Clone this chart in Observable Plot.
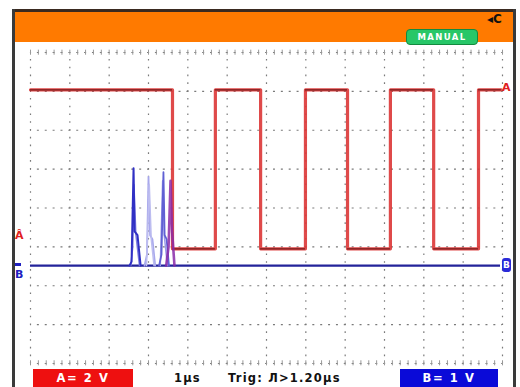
<!DOCTYPE html>
<html>
<head>
<meta charset="utf-8">
<script src="https://cdn.jsdelivr.net/npm/d3@7"></script>
<script src="https://cdn.jsdelivr.net/npm/@observablehq/plot@0.6"></script>
<style>
  html, body { margin: 0; padding: 0; background: #fff; }
  #wrap { position: relative; width: 520px; height: 387px; overflow: hidden; background: #fff; font-family: "DejaVu Sans", sans-serif; }
  #wrap svg { position: absolute; left: 0; top: 0; }
  .abs { position: absolute; }
  .lab { font-weight: bold; font-size: 11.5px; color: #111; white-space: pre; letter-spacing: 1.2px; }
  .box { color: #fff; font-weight: bold; font-size: 11.5px; text-align: center; line-height: 18px; letter-spacing: 1.6px; white-space: pre; }
</style>
</head>
<body>
<div id="wrap"></div>
<script>
// ---- data (time in µs = divisions, level in divisions) ----
const gridX = d3.range(0, 13);            // 12 horizontal divisions
const gridY = d3.range(0, 9);             // 8 vertical divisions
const subTicks = d3.range(0, 12.01, 0.2);

// Channel A (red) square wave
const redStart = 0, redEnd = 11.97;
const redHigh = 7.04, redLow = 2.95;
const redEdges = [3.61, 4.70, 5.85, 6.99, 8.06, 9.15, 10.25, 11.39];

// Channel B (blue) baseline and glitch spikes
const blueLevel = 2.52;
const blueEnd = 11.95;
const spike1T = [2.52, 2.57, 2.62, 2.645, 2.72, 2.80];
const spike1V = [2.52, 2.62, 5.02, 3.40, 3.30, 2.52];
const spike1bT = [2.55, 2.60, 2.63, 2.68, 2.77];
const spike1bV = [2.52, 3.00, 4.60, 3.30, 2.52];
const spike2T = [2.90, 2.96, 3.00, 3.04, 3.10, 3.17];
const spike2V = [2.52, 2.80, 4.80, 3.30, 3.20, 2.52];
const spike2bT = [2.95, 3.02, 3.07, 3.14];
const spike2bV = [2.52, 4.60, 3.20, 2.52];
const spike3T = [3.27, 3.33, 3.38, 3.41, 3.46, 3.52];
const spike3V = [2.52, 2.80, 4.92, 3.30, 3.20, 2.52];
const spike3bT = [3.30, 3.36, 3.40, 3.48];
const spike3bV = [2.52, 4.70, 3.30, 2.52];
const spike4T = [3.45, 3.51, 3.56, 3.60, 3.66];
const spike4V = [2.52, 3.00, 4.70, 3.40, 2.52];

// texts
const timebase = "1µs";
const trigText = "Trig: Л>1.20µs";
const chA = "A= 2 V";
const chB = "B= 1 V";
const modeText = "MANUAL";

// ---- build tables ----
const redPts = [];
let lvl = redHigh;
redPts.push({t: redStart, v: lvl});
for (const e of redEdges) {
  redPts.push({t: e, v: lvl});
  lvl = lvl === redHigh ? redLow : redHigh;
  redPts.push({t: e, v: lvl});
}
redPts.push({t: redEnd, v: lvl});
const redSegs = [];
for (let i = 0; i < redPts.length - 1; i += 2) redSegs.push({t1: redPts[i].t, t2: redPts[i+1].t, v: redPts[i].v});

const zip = (T, V) => T.map((t, i) => ({t, v: V[i]}));

const W = 520, H = 387;
const chart = Plot.plot({
  width: W, height: H,
  marginLeft: 30, marginRight: 18, marginTop: 52, marginBottom: 24,
  x: {domain: [0, 12], axis: null},
  y: {domain: [0, 8], axis: null},
  style: {background: "transparent", overflow: "visible"},
  marks: [
    Plot.ruleY(gridY, {stroke: "#7a7a7a", strokeWidth: 1.2, strokeDasharray: "2,5.87", strokeDashoffset: 1}),
    Plot.ruleX(gridX, {stroke: "#7a7a7a", strokeWidth: 1.2, strokeDasharray: "1.6,6.18", strokeDashoffset: 0.8}),
    Plot.ruleX(subTicks, {x: d => d, y1: 7.93, y2: 8.06, stroke: "#999"}),
    Plot.ruleX(subTicks, {x: d => d, y1: -0.06, y2: 0.07, stroke: "#999"}),
    // Channel B
    Plot.ruleY([blueLevel], {x1: 0, x2: blueEnd, stroke: "#23239a", strokeWidth: 2.2}),
    Plot.line(zip(spike2T, spike2V), {x: "t", y: "v", stroke: "#a8a8ec", strokeWidth: 1.8}),
    Plot.line(zip(spike2bT, spike2bV), {x: "t", y: "v", stroke: "#bdbdf0", strokeWidth: 1.5}),
    Plot.line(zip(spike1bT, spike1bV), {x: "t", y: "v", stroke: "#8080e2", strokeWidth: 1.5}),
    Plot.line(zip(spike1T, spike1V), {x: "t", y: "v", stroke: "#3030c4", strokeWidth: 2}),
    Plot.line(zip(spike3bT, spike3bV), {x: "t", y: "v", stroke: "#9a9ae8", strokeWidth: 1.5}),
    Plot.line(zip(spike3T, spike3V), {x: "t", y: "v", stroke: "#6060d4", strokeWidth: 1.8}),
    // Channel A
    Plot.line(redPts, {x: "t", y: "v", stroke: "#dc3636", strokeWidth: 3.2, strokeOpacity: 0.9}),
    Plot.ruleY(redSegs, {x1: "t1", x2: "t2", y: "v", stroke: "#5e1212", strokeWidth: 1.2, strokeOpacity: 0.8}),
    Plot.line(zip(spike4T, spike4V), {x: "t", y: "v", stroke: "#8a2aa8", strokeWidth: 2.6, strokeOpacity: 0.85})
  ]
});

const wrap = document.getElementById("wrap");
wrap.appendChild(chart);

function div(style, cls, text) {
  const d = document.createElement("div");
  d.className = "abs " + (cls || "");
  d.setAttribute("style", style);
  if (text != null) d.textContent = text;
  wrap.appendChild(d);
  return d;
}
// frame and header
div("left:12px;top:9px;width:504px;height:3px;background:#3a2a20;");
div("left:12px;top:9px;width:3px;height:380px;background:#3a3a3a;");
div("left:513px;top:9px;width:3px;height:380px;background:#3a3a3a;");
div("left:15px;top:12px;width:498px;height:30px;background:#ff7a00;");
div("left:406px;top:29px;width:70px;height:14px;background:#27c768;border:1px solid #138a3f;border-radius:4px;color:#fff;font-weight:bold;font-size:8.5px;line-height:14px;text-align:center;letter-spacing:1.4px;", "", modeText);
div("left:487px;top:12px;font-weight:bold;font-size:12px;color:#111;line-height:14px;", "", "◂C");
// trace markers
div("left:15px;top:229px;font-weight:bold;font-size:11px;color:#e02020;line-height:14px;", "", "Â");
div("left:502px;top:81px;font-weight:bold;font-size:11px;color:#e02020;line-height:14px;", "", "A");
div("left:15px;top:263px;width:6px;height:3px;background:#2020c0;");
div("left:15px;top:268px;font-weight:bold;font-size:11px;color:#2020c0;line-height:14px;", "", "B");
div("left:502px;top:258px;width:9px;height:14px;background:#2a2ad8;border-radius:3px;color:#fff;font-weight:bold;font-size:9px;line-height:14px;text-align:center;", "", "B");
// footer
div("left:33px;top:369px;width:100px;height:18px;background:#ee1010;", "box", chA);
div("left:400px;top:369px;width:98px;height:18px;background:#0a0ad8;", "box", chB);
div("left:174px;top:370px;line-height:16px;", "lab", timebase);
div("left:228px;top:370px;line-height:16px;", "lab", trigText);
</script>
</body>
</html>
